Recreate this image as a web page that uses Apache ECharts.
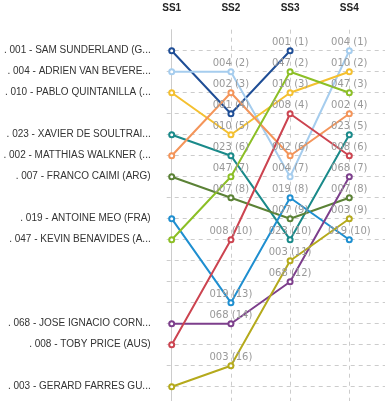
<!DOCTYPE html>
<html>
<head>
<meta charset="utf-8">
<script src="https://cdn.jsdelivr.net/npm/echarts@6/dist/echarts.min.js"></script>
<style>
html,body{margin:0;padding:0;background:#fff;}
#chart{width:385px;height:401px;}
</style>
</head>
<body>
<div id="chart"></div>
<script>
// Stages (x axis)
var stages = ['SS1', 'SS2', 'SS3', 'SS4'];
// Riders
var riderNumbers = ['001', '004', '010', '023', '002', '007', '019', '047', '068', '008', '003'];
var riderNames = [
  'SAM SUNDERLAND (GBR)',
  'ADRIEN VAN BEVEREN (FRA)',
  'PABLO QUINTANILLA (CHL)',
  'XAVIER DE SOULTRAIT (FRA)',
  'MATTHIAS WALKNER (AUT)',
  'FRANCO CAIMI (ARG)',
  'ANTOINE MEO (FRA)',
  'KEVIN BENAVIDES (ARG)',
  'JOSE IGNACIO CORNEJO (CHL)',
  'TOBY PRICE (AUS)',
  'GERARD FARRES GUELL (ESP)'
];
// Ranks per stage, one array per rider (null = no result)
var rank001 = [1, 4, 1, null];
var rank004 = [2, 2, 7, 1];
var rank010 = [3, 5, 3, 2];
var rank023 = [5, 6, 10, 5];
var rank002 = [6, 3, 6, 4];
var rank007 = [7, 8, 9, 8];
var rank019 = [9, 13, 8, 10];
var rank047 = [10, 7, 2, 3];
var rank068 = [14, 14, 12, 7];
var rank008 = [15, 10, 4, 6];
var rank003 = [17, 16, 11, 9];
var ranks = [rank001, rank004, rank010, rank023, rank002, rank007, rank019, rank047, rank068, rank008, rank003];
var colors = ['#1f4e96', '#a6cdee', '#f4c030', '#1a8a8a', '#f4955a', '#5b8236', '#1f8fd0', '#8cbf26', '#7d3f8c', '#cc4450', '#b5aa1c'];

var firstStageLabel = {};
riderNumbers.forEach(function (num, i) {
  firstStageLabel[ranks[i][0]] = '. ' + num + ' - ' + riderNames[i];
});

var series = riderNumbers.map(function (num, i) {
  var s = {
    type: 'line',
    name: num,
    data: ranks[i].map(function (r, j) { return [j, r]; }),
    connectNulls: false,
    symbol: 'emptyCircle',
    symbolSize: 5,
    showAllSymbol: true,
    lineStyle: { width: 2, color: colors[i] },
    itemStyle: { color: colors[i], borderWidth: 1.2 },
    label: {
      show: true,
      position: 'top',
      distance: 0,
      color: '#999',
      fontFamily: 'DejaVu Sans',
      fontSize: 10,
      formatter: function (p) {
        if (p.data[0] === 0 || p.data[1] == null) return '';
        return num + ' (' + p.data[1] + ')';
      }
    },
    emphasis: { disabled: true },
    animation: false
  };
  if (i === 0) {
    s.markLine = {
      silent: true,
      symbol: 'none',
      z: 1,
      label: { show: false },
      lineStyle: { color: '#ccc', type: [4, 4], width: 1 },
      data: stages.slice(1).map(function (st, k) { return { xAxis: k + 1 }; }),
      animation: false
    };
  }
  return s;
});

var chart = echarts.init(document.getElementById('chart'), null, { renderer: 'canvas' });
chart.setOption({
  animation: false,
  grid: { left: 166.7, right: 0, top: 29.7, height: 378, outerBoundsMode: 'none', containLabel: false },
  xAxis: {
    type: 'value',
    position: 'top',
    min: -0.0845,
    max: 3.603,
    axisLine: { show: false },
    axisTick: { show: false },
    splitLine: { show: false },
    axisLabel: {
      showMinLabel: false,
      showMaxLabel: false,
      margin: 16,
      fontFamily: 'Liberation Sans',
      fontWeight: 'bold',
      fontSize: 10,
      color: '#222',
      formatter: function (v) {
        var r = Math.round(v);
        if (Math.abs(v - r) > 1e-6 || r < 0 || r >= stages.length) return '';
        return stages[r];
      }
    }
  },
  yAxis: {
    type: 'value',
    inverse: true,
    min: 0,
    max: 18,
    interval: 1,
    axisLine: { show: true, lineStyle: { color: '#ccc', width: 1 } },
    axisTick: { show: false },
    splitLine: { show: true, showMinLine: false, lineStyle: { color: '#ccc', type: [4, 4], width: 1 } },
    axisLabel: {
      margin: 16,
      fontFamily: 'Liberation Sans',
      fontSize: 10,
      color: '#333',
      width: 149,
      overflow: 'truncate',
      ellipsis: '...',
      formatter: function (v) {
        return firstStageLabel[v] || '';
      }
    }
  },
  series: series
});
</script>
</body>
</html>
